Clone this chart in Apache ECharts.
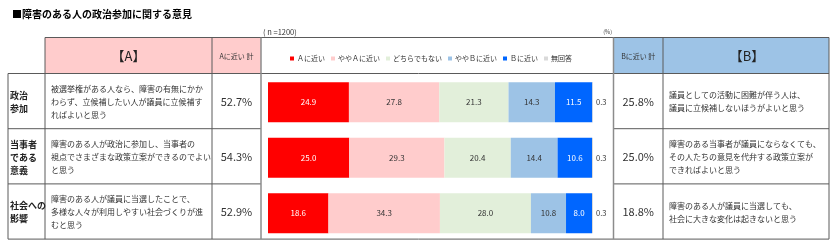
<!DOCTYPE html>
<html><head><meta charset="utf-8">
<script src="https://cdn.jsdelivr.net/npm/echarts@6/dist/echarts.min.js"></script>
<style>html,body{margin:0;padding:0;background:#fff}#c{width:830px;height:241px}</style>
</head><body><div id="c"></div>
<script>
// ---- data ----
const titleText = '■障害のある人の政治参加に関する意見';
const sampleText = '( n =1200)';
const unitText = '(%)';
const categories = ['政治参加', '当事者である意義', '社会への影響'];
const rowLabels = ['政治\n参加', '当事者\nである\n意義', '社会への\n影響'];
const seriesNames = ['Ａに近い', 'ややＡに近い', 'どちらでもない', 'ややＢに近い', 'Ｂに近い', '無回答'];
const nearA = [24.9, 25.0, 18.6];
const somewhatA = [27.8, 29.3, 34.3];
const neither = [21.3, 20.4, 28.0];
const somewhatB = [14.3, 14.4, 10.8];
const nearB = [11.5, 10.6, 8.0];
const noAnswer = [0.3, 0.3, 0.3];
const aTotals = [52.7, 54.3, 52.9];
const bTotals = [25.8, 25.0, 18.8];
const aHeader = '【A】';
const bHeader = '【B】';
const aTotalHeader = 'Aに近い 計';
const bTotalHeader = 'Bに近い 計';
const aStatements = [
  '被選挙権がある人なら、障害の有無にかか\nわらず、立候補したい人が議員に立候補す\nればよいと思う',
  '障害のある人が政治に参加し、当事者の\n視点でさまざまな政策立案ができるのでよい\nと思う',
  '障害のある人が議員に当選したことで、\n多様な人々が利用しやすい社会づくりが進\nむと思う'
];
const bStatements = [
  '議員としての活動に困難が伴う人は、\n議員に立候補しないほうがよいと思う',
  '障害のある当事者が議員にならなくても、\nその人たちの意見を代弁する政策立案が\nできればよいと思う',
  '障害のある人が議員に当選しても、\n社会に大きな変化は起きないと思う'
];

// ---- styles / layout ----
const FONT = '"Noto Sans CJK JP", "Noto Sans", sans-serif';
const colors = ['#FF0000', '#FFCCCC', '#E2EFDA', '#9DC3E6', '#0066FF', '#D9D9D9'];
const labelColors = ['#FFFFFF', '#333333', '#333333', '#333333', '#FFFFFF', '#333333'];
const values = [nearA, somewhatA, neither, somewhatB, nearB, noAnswer];

const LINE = '#5a5a5a';
const headTop = 37.5, headBot = 73.5, rowH = 55.2;
const colX = [8, 45, 212, 261, 613.5, 663, 829];
const g = [];
function line(x1, y1, x2, y2, c, w) {
  g.push({type: 'line', silent: true, z: 10, shape: {x1, y1, x2, y2}, style: {stroke: c || LINE, lineWidth: w || 1}});
}
function rect(x, y, w, h, fill) {
  g.push({type: 'rect', silent: true, z: 1, shape: {x, y, width: w, height: h}, style: {fill}});
}
function text(t, x, y, o) {
  g.push({type: 'text', silent: true, z: 20, x, y, style: Object.assign({
    text: t, fill: '#333', fontFamily: FONT, fontSize: 8, fontWeight: 'normal',
    textAlign: 'left', textVerticalAlign: 'middle', align: 'left', verticalAlign: 'middle'
  }, o)});
}
// header fills
rect(colX[1], headTop, colX[3] - colX[1], headBot - headTop, '#FFCCCC');
rect(colX[4], headTop, colX[6] - colX[4], headBot - headTop, '#9DC3E6');
// horizontal lines
line(colX[1], headTop, colX[6], headTop);
line(colX[0], headBot, colX[6], headBot);
for (let i = 1; i < categories.length; i++) {
  const y = headBot + i * rowH;
  line(colX[0], y, colX[3], y);
  line(colX[4], y, colX[6], y);
}
const tableBot = headBot + categories.length * rowH;
line(colX[0], tableBot, colX[6], tableBot);
// vertical lines
line(colX[0], headBot, colX[0], tableBot);
[1, 2, 5, 6].forEach(k => line(colX[k], headTop, colX[k], tableBot));
line(colX[3], headTop, colX[3], tableBot, '#8c8c8c', 1.5);
line(colX[4], headTop, colX[4], tableBot, '#8c8c8c', 1.5);

// title & notes
text(titleText, 12, 14, {fontSize: 10, fontWeight: 'bold', fill: '#000'});
text(sampleText, 263, 32, {fontSize: 7.5, fill: '#333'});
text(unitText, 612, 32, {fontSize: 5.5, fill: '#333', textAlign: 'right', align: 'right'});
// headers
const hy = 56;
text(aHeader, (colX[1] + colX[2]) / 2, hy, {fontSize: 13, fill: '#222', textAlign: 'center', align: 'center'});
text(aTotalHeader, (colX[2] + colX[3]) / 2, hy, {fontSize: 7, fill: '#333', textAlign: 'center', align: 'center'});
text(bTotalHeader, (colX[4] + colX[5]) / 2, hy, {fontSize: 7, fill: '#333', textAlign: 'center', align: 'center'});
text(bHeader, (colX[5] + colX[6]) / 2 + 1, hy, {fontSize: 13, fill: '#222', textAlign: 'center', align: 'center'});
// rows
categories.forEach((c, i) => {
  const cy = headBot + i * rowH + rowH / 2 + 0.8;
  text(rowLabels[i], 10, cy, {fontSize: 9, fontWeight: 'bold', fill: '#222', lineHeight: 13});
  text(aStatements[i], 51, cy, {fontSize: 8, fill: '#333', lineHeight: 13});
  text(aTotals[i].toFixed(1) + '%', (colX[2] + colX[3]) / 2, cy, {fontSize: 11, fill: '#333', textAlign: 'center', align: 'center'});
  text(bTotals[i].toFixed(1) + '%', (colX[4] + colX[5]) / 2, cy, {fontSize: 11, fill: '#333', textAlign: 'center', align: 'center'});
  text(bStatements[i], 669, cy, {fontSize: 8, fill: '#333', lineHeight: 13});
});

const series = seriesNames.map((name, k) => ({
  name, type: 'bar', stack: 'total', data: values[k], barWidth: 40,
  itemStyle: {color: colors[k]},
  label: k === 5 ? {
    show: true, position: 'right', distance: 3, fontSize: 7.5, color: '#333', fontFamily: FONT,
    formatter: p => p.value.toFixed(1)
  } : {
    show: true, position: 'inside', fontSize: 8, color: labelColors[k], fontFamily: FONT,
    formatter: p => p.value.toFixed(1)
  },
  silent: true, animation: false
}));

const chart = echarts.init(document.getElementById('c'), null, {renderer: 'canvas'});
chart.setOption({
  animation: false,
  backgroundColor: '#fff',
  grid: {left: 268, top: 74.5, width: 325, height: 167, containLabel: false},
  xAxis: {type: 'value', min: 0, max: 100, show: false},
  yAxis: {type: 'category', data: categories, inverse: true, show: false},
  legend: {
    data: seriesNames, left: 290, top: 55, icon: 'rect', itemWidth: 4, itemHeight: 4, itemGap: 6,
    padding: 0, selectedMode: false,
    textStyle: {fontSize: 7, color: '#333', fontFamily: FONT, padding: [0, 0, 0, -2]}
  },
  graphic: {elements: g},
  series
});
</script></body></html>
